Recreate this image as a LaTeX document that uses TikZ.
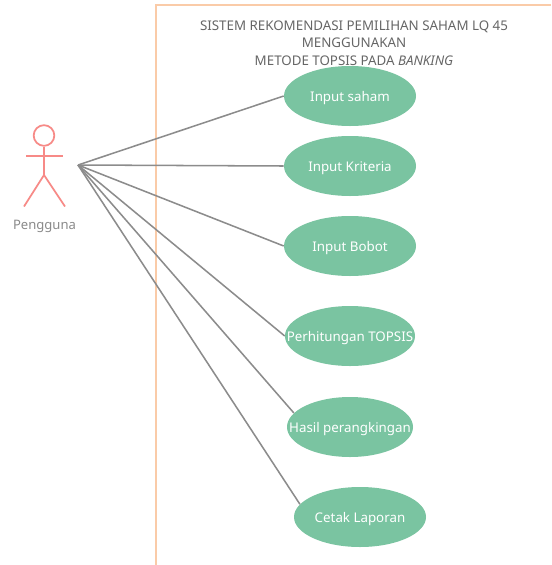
\documentclass[tikz,border=0pt]{standalone}
\usepackage{fontspec}
\setmainfont{Noto Sans}
\usetikzlibrary{shapes.geometric}
\definecolor{uc}{HTML}{7AC4A1}
\definecolor{act}{HTML}{F78A87}
\definecolor{bord}{HTML}{FACBA8}
\definecolor{lin}{HTML}{8C8C8C}
\definecolor{txt}{HTML}{666666}
\definecolor{actxt}{HTML}{8A8A8A}
\newcommand{\uclabel}[1]{\raisebox{-3.75pt}[0pt][0pt]{\makebox[0pt][c]{#1}}}
\tikzset{x=0.75pt,y=-0.75pt,
 usecase/.style={ellipse,fill=uc,draw=none,text=white,font=\fontsize{10}{12}\selectfont,inner sep=0pt,minimum width=#1*0.75pt,minimum height=45pt},
 usecase/.default=132,
 link/.style={draw=lin,line width=1.15pt},
 actorline/.style={draw=act,line width=1.3pt},
 title/.style={text=txt,font=\fontsize{10}{13.2}\selectfont,align=center}}
\begin{document}
\begin{tikzpicture}
\useasboundingbox (0,0) rectangle (551,565);
\fill[white] (0,0) rectangle (551,565);
\draw[bord,line width=1.5pt] (551,5)--(155.5,5)--(155.5,565);
\node[title] (t) at (354,43) {SISTEM REKOMENDASI PEMILIHAN SAHAM LQ 45\\MENGGUNAKAN\\METODE TOPSIS PADA \textit{BANKING}};
\coordinate (hub) at (78,165);
\node[usecase=132] (a) at (350,96) {\uclabel{Input saham}};
\node[usecase=132] (b) at (350,166) {\uclabel{Input Kriteria}};
\node[usecase=132] (c) at (350,246) {\uclabel{Input Bobot}};
\node[usecase=130] (d) at (350,336) {\uclabel{Perhitungan TOPSIS}};
\node[usecase=126] (e) at (350,427) {\uclabel{Hasil perangkingan}};
\node[usecase=132] (f) at (360,517) {\uclabel{Cetak Laporan}};
\draw[link] (hub)--(a.west);
\draw[link] (hub)--(b.west);
\draw[link] (hub)--(c.west);
\draw[link] (hub)--(d.west);
\draw[link] (hub)--(e.166);
\draw[link] (hub)--(f.168);
\node[draw=act,line width=1.3pt,circle,minimum size=15.5pt,inner sep=0pt] (head) at (44,135.5) {};
\coordinate (hip) at (44,175);
\draw[actorline] (head.south)--(hip);
\draw[actorline] (26,156)--(63,156);
\draw[actorline] (24,206.5)--(hip)--(65,206.5);
\node[text=actxt,font=\fontsize{9.8}{11}\selectfont] (lab) at (44.5,226.5) {Pengguna};
\end{tikzpicture}
\end{document}
